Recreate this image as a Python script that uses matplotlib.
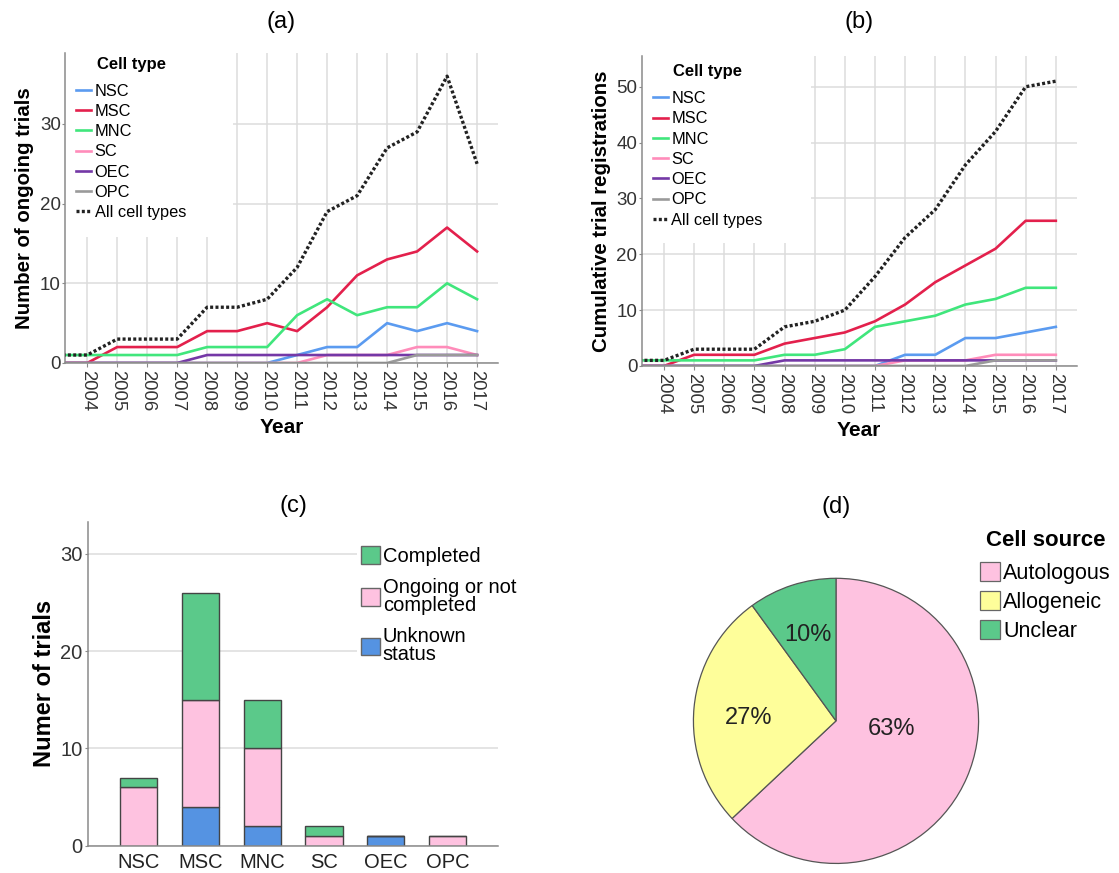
import matplotlib.pyplot as plt
from matplotlib.patches import Rectangle

plt.rcParams['font.family'] = ['Liberation Sans', 'DejaVu Sans']

# years (2003 sits just left of the visible axis, label hidden)
years = list(range(2003, 2018))
year_ticks = list(range(2004, 2018))

# (a) ongoing trials per year
ong_nsc = [0, 0, 0, 0, 0, 0, 0, 0, 1, 2, 2, 5, 4, 5, 4]
ong_msc = [0, 0, 2, 2, 2, 4, 4, 5, 4, 7, 11, 13, 14, 17, 14]
ong_mnc = [1, 1, 1, 1, 1, 2, 2, 2, 6, 8, 6, 7, 7, 10, 8]
ong_sc = [0, 0, 0, 0, 0, 0, 0, 0, 0, 1, 1, 1, 2, 2, 1]
ong_oec = [0, 0, 0, 0, 0, 1, 1, 1, 1, 1, 1, 1, 1, 1, 1]
ong_opc = [0, 0, 0, 0, 0, 0, 0, 0, 0, 0, 0, 0, 1, 1, 1]
ong_all = [1, 1, 3, 3, 3, 7, 7, 8, 12, 19, 21, 27, 29, 36, 25]

# (b) cumulative registrations
cum_nsc = [0, 0, 0, 0, 0, 0, 0, 0, 0, 2, 2, 5, 5, 6, 7]
cum_msc = [0, 0, 2, 2, 2, 4, 5, 6, 8, 11, 15, 18, 21, 26, 26]
cum_mnc = [1, 1, 1, 1, 1, 2, 2, 3, 7, 8, 9, 11, 12, 14, 14]
cum_sc = [0, 0, 0, 0, 0, 0, 0, 0, 0, 1, 1, 1, 2, 2, 2]
cum_oec = [0, 0, 0, 0, 0, 1, 1, 1, 1, 1, 1, 1, 1, 1, 1]
cum_opc = [0, 0, 0, 0, 0, 0, 0, 0, 0, 0, 0, 0, 1, 1, 1]
cum_all = [1, 1, 3, 3, 3, 7, 8, 10, 16, 23, 28, 36, 42, 50, 51]

# (c) trial status by cell type
cell_types = ['NSC', 'MSC', 'MNC', 'SC', 'OEC', 'OPC']
unknown = [0, 4, 2, 0, 1, 0]
ongoing = [6, 11, 8, 1, 0, 1]
completed = [1, 11, 5, 1, 0, 0]

# (d) cell source
sources = ['Autologous', 'Allogeneic', 'Unclear']
source_pct = [63, 27, 10]

line_names = ['NSC', 'MSC', 'MNC', 'SC', 'OEC', 'OPC']
line_colors = ['#5b9bf0', '#e3204c', '#40e67c', '#ff8cba', '#7438a6', '#9a9a9a']

GRID = '#dcdcdc'
AX = '#8a8a8a'


def line_panel(ax, series, total, ylim, yticks, ylabel, cover):
    for vals, name, col in zip(series, line_names, line_colors):
        ax.plot(years, vals, color=col, lw=1.9, label=name, zorder=2)
    ax.plot(years, total, color='#222222', lw=2.4, ls=(0, (0.9, 0.7)),
            label='All cell types', zorder=3)
    ax.set_xlim(2003.26, 2017.7)
    ax.set_ylim(0, ylim)
    ax.set_xticks(year_ticks)
    ax.set_xticklabels([str(y) for y in year_ticks], rotation=270,
                       fontsize=13.3, color='#333333')
    ax.set_yticks(yticks)
    ax.tick_params(axis='y', labelsize=13.5, labelcolor='#333333',
                   length=2, color=AX, pad=1)
    ax.tick_params(axis='x', length=3, color=AX, pad=2)
    ax.grid(True, color=GRID, lw=1.1)
    ax.set_axisbelow(True)
    for s in ['top', 'right']:
        ax.spines[s].set_visible(False)
    for s in ['left', 'bottom']:
        ax.spines[s].set_color(AX)
        ax.spines[s].set_linewidth(1.1)
    ax.set_xlabel('Year', fontsize=15, fontweight='bold', labelpad=5)
    ax.set_ylabel(ylabel, fontsize=14.7, fontweight='bold', labelpad=4)
    ax.add_patch(Rectangle((0, cover[1]), cover[0], 1 - cover[1],
                           transform=ax.transAxes, facecolor='white',
                           edgecolor='none', zorder=1))


def cell_legend(ax, ytop):
    lg = ax.legend(loc='upper left', bbox_to_anchor=(0.0, ytop),
                   frameon=False, fontsize=11.8, title='Cell type',
                   title_fontproperties={'weight': 'bold', 'size': 12},
                   handlelength=0.9, handletextpad=0.2, labelspacing=0.32,
                   borderaxespad=0.3)
    lg._legend_box.sep = 8.5
    return lg


fig = plt.figure(figsize=(11.19, 8.73), dpi=100)

# (a)
axa = fig.add_axes([0.0581, 0.5842, 0.387, 0.355])
line_panel(axa, [ong_nsc, ong_msc, ong_mnc, ong_sc, ong_oec, ong_opc],
           ong_all, 38.9, [0, 10, 20, 30], 'Number of ongoing trials',
           (0.388, 0.406))
cell_legend(axa, 1.025)
axa.set_title('(a)', fontsize=17, pad=18)

# (b)
axb = fig.add_axes([0.5734, 0.5808, 0.389, 0.355])
line_panel(axb, [cum_nsc, cum_msc, cum_mnc, cum_sc, cum_oec, cum_opc],
           cum_all, 55.5, [0, 10, 20, 30, 40, 50],
           'Cumulative trial registrations', (0.39, 0.397))
cell_legend(axb, 1.01)
axb.set_title('(b)', fontsize=17, pad=20)

# (c)
axc = fig.add_axes([0.0789, 0.0313, 0.366, 0.371])
x = range(len(cell_types))
bot2 = [u + o for u, o in zip(unknown, ongoing)]
b_unk = axc.bar(x, unknown, 0.6, color='#5593e2', edgecolor='#444444',
                lw=1, label='Unknown\nstatus', zorder=2)
b_ong = axc.bar(x, ongoing, 0.6, bottom=unknown, color='#fec2e0',
                edgecolor='#444444', lw=1, label='Ongoing or not\ncompleted',
                zorder=2)
b_com = axc.bar(x, completed, 0.6, bottom=bot2, color='#5bc98a',
                edgecolor='#444444', lw=1, label='Completed', zorder=2)
axc.set_xlim(-0.81, 5.81)
axc.set_ylim(0, 33.3)
axc.set_xticks(list(x))
axc.set_xticklabels(cell_types, fontsize=14.5, color='#222222')
axc.set_yticks([0, 10, 20, 30])
axc.tick_params(axis='y', labelsize=14.5, labelcolor='#333333', length=2,
                color=AX, pad=2)
axc.tick_params(axis='x', length=0, pad=5)
axc.grid(True, axis='y', color=GRID, lw=1.1)
axc.set_axisbelow(True)
for s in ['top', 'right']:
    axc.spines[s].set_visible(False)
for s in ['left', 'bottom']:
    axc.spines[s].set_color(AX)
    axc.spines[s].set_linewidth(1.1)
axc.set_ylabel('Numer of trials', fontsize=17, fontweight='bold', labelpad=3)
axc.set_title('(c)', fontsize=17, pad=7)
lgc = axc.legend([b_com, b_ong, b_unk],
                 ['Completed', 'Ongoing or not\ncompleted', 'Unknown\nstatus'],
                 loc='upper left', bbox_to_anchor=(0.655, 0.937),
                 frameon=True, fancybox=False, edgecolor='none',
                 facecolor='white', framealpha=1, fontsize=14.5,
                 handlelength=0.95, handleheight=0.95, handletextpad=0.15,
                 labelspacing=0.6, borderaxespad=0, borderpad=0.2)
for t in lgc.get_texts():
    t.set_linespacing(0.95)
for h in lgc.legend_handles:
    h.set_edgecolor('#666666')

# (d)
axd = fig.add_axes([0.6184, 0.0093, 0.2574, 0.3299])
wedges, _, pct = axd.pie(source_pct, colors=['#fec2e0', '#fefe9a', '#5bc98a'],
                         startangle=90, counterclock=False,
                         autopct='%1.0f%%', pctdistance=0.63,
                         wedgeprops={'edgecolor': '#555555', 'lw': 0.9},
                         textprops={'fontsize': 17, 'color': '#222222'})
pct[0].set_position((0.39, -0.06))
pct[1].set_position((-0.61, 0.02))
axd.set_xlim(-1.01, 1.01)
axd.set_ylim(-1.01, 1.01)
axd.set_aspect('equal')
axd.set_title('(d)', fontsize=17, pad=46)
lgd = axd.legend(wedges, sources, loc='upper left',
                 bbox_to_anchor=(0.969, 1.193), frameon=False, fontsize=15.5,
                 title='Cell source',
                 title_fontproperties={'weight': 'bold', 'size': 16},
                 handlelength=0.95, handleheight=0.95, handletextpad=0.15,
                 labelspacing=0.35, borderaxespad=0)
lgd._legend_box.sep = 8
for h in lgd.legend_handles:
    h.set_edgecolor('#666666')

fig.savefig('out.png', dpi=100)
